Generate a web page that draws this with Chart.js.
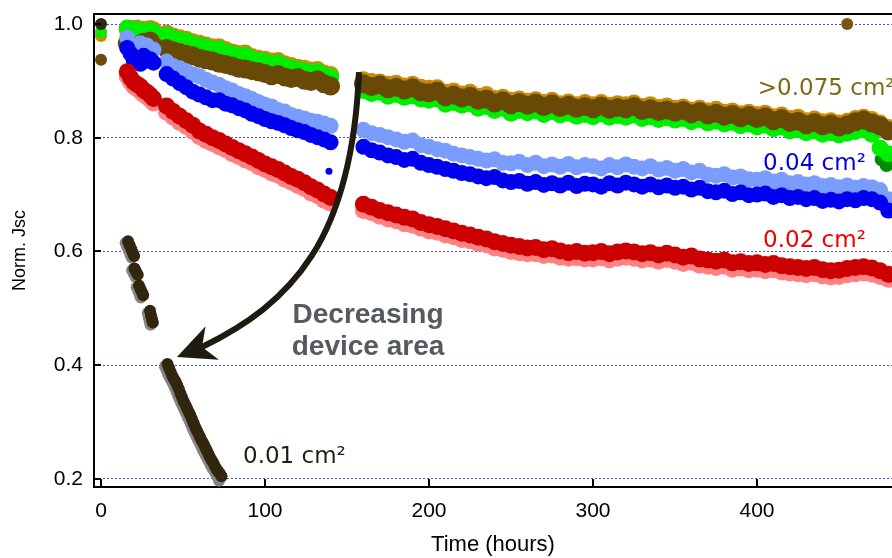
<!DOCTYPE html>
<html>
<head>
<meta charset="utf-8">
<title>Norm. Jsc vs time</title>
<script src="https://cdn.jsdelivr.net/npm/chart.js@4.4.1/dist/chart.umd.min.js"></script>
<style>
  html, body { margin: 0; padding: 0; background: #fff; }
  #wrap { width: 892px; height: 558px; }
</style>
</head>
<body>
<div id="wrap"><canvas id="chart"></canvas></div>
<script>
// measurement times (hours), three runs with gaps between them
const seg1Times = [16, 18, 20, 22, 24, 26, 28, 30, 32]
const seg2Times = [
  40, 44, 48, 52, 56, 60, 64, 68, 72, 76, 80, 84, 88,
  92, 96, 100, 104, 108, 112, 116, 120, 124, 128, 132, 136, 140
]
const seg3Times = [
  160, 165, 170, 175, 180, 185, 190, 195, 200, 205,
  210, 215, 220, 225, 230, 235, 240, 245, 250, 255,
  260, 265, 270, 275, 280, 285, 290, 295, 300, 305,
  310, 315, 320, 325, 330, 335, 340, 345, 350, 355,
  360, 365, 370, 375, 380, 385, 390, 395, 400, 405,
  410, 415, 420, 425, 430, 435, 440, 445, 450, 455,
  460, 465, 470, 475, 480
]
const times = seg1Times.concat(seg2Times, seg3Times)

// >0.075 cm2 devices
const brownValues = [
  0.966, 0.962, 0.958, 0.962, 0.956, 0.968, 0.963, 0.970, 0.962,
  0.957, 0.953, 0.950, 0.947, 0.944, 0.940, 0.937, 0.935, 0.931, 0.929, 0.926, 0.922, 0.921,
  0.918, 0.916, 0.913, 0.909, 0.911, 0.907, 0.904, 0.906, 0.901, 0.899, 0.902, 0.895, 0.891,
  0.895, 0.890, 0.893, 0.886, 0.889, 0.884, 0.888, 0.881, 0.879, 0.882,
  0.872, 0.875, 0.870, 0.873, 0.866, 0.868, 0.861, 0.865, 0.858, 0.862,
  0.857, 0.861, 0.855, 0.860, 0.853, 0.857, 0.852, 0.855, 0.851, 0.856,
  0.850, 0.853, 0.851, 0.855, 0.848, 0.851, 0.846, 0.849, 0.845, 0.848,
  0.842, 0.846, 0.840, 0.843, 0.838, 0.841, 0.835, 0.839, 0.834, 0.837,
  0.830, 0.834, 0.827, 0.829, 0.823, 0.827, 0.821, 0.824, 0.819, 0.823,
  0.828, 0.831, 0.826, 0.821, 0.812
]
const orangeValues = [
  0.990, 0.992, 0.989, 0.993, 0.988, 0.991, 0.987, 0.992, 0.990,
  0.984, 0.979, 0.976, 0.973, 0.969, 0.966, 0.963, 0.960, 0.960, 0.955, 0.951, 0.948, 0.949,
  0.943, 0.940, 0.938, 0.935, 0.936, 0.930, 0.927, 0.924, 0.922, 0.919, 0.920, 0.914, 0.911,
  0.902, 0.899, 0.898, 0.894, 0.896, 0.891, 0.894, 0.889, 0.887, 0.888,
  0.880, 0.882, 0.877, 0.880, 0.873, 0.876, 0.869, 0.871, 0.866, 0.868,
  0.864, 0.867, 0.862, 0.866, 0.860, 0.863, 0.858, 0.862, 0.858, 0.862,
  0.857, 0.860, 0.858, 0.861, 0.855, 0.858, 0.853, 0.856, 0.852, 0.854,
  0.849, 0.852, 0.847, 0.850, 0.845, 0.847, 0.842, 0.845, 0.841, 0.843,
  0.837, 0.840, 0.834, 0.836, 0.830, 0.833, 0.828, 0.830, 0.826, 0.829,
  0.834, 0.836, 0.832, 0.826, 0.818
]
const greenValues = [
  0.993, 0.990, 0.986, 0.990, 0.985, 0.988, 0.984, 0.989, 0.986,
  0.980, 0.976, 0.972, 0.970, 0.965, 0.962, 0.960, 0.955, 0.957, 0.950, 0.948, 0.944, 0.945,
  0.939, 0.936, 0.934, 0.930, 0.932, 0.926, 0.922, 0.920, 0.918, 0.914, 0.916, 0.910, 0.907,
  0.883, 0.878, 0.880, 0.873, 0.876, 0.871, 0.874, 0.868, 0.866, 0.868,
  0.859, 0.862, 0.857, 0.860, 0.852, 0.855, 0.848, 0.852, 0.843, 0.848,
  0.844, 0.847, 0.841, 0.846, 0.840, 0.843, 0.838, 0.841, 0.837, 0.842,
  0.836, 0.839, 0.836, 0.840, 0.834, 0.837, 0.832, 0.835, 0.831, 0.834,
  0.828, 0.832, 0.826, 0.829, 0.824, 0.827, 0.821, 0.824, 0.819, 0.822,
  0.816, 0.819, 0.812, 0.814, 0.809, 0.812, 0.806, 0.809, 0.805, 0.808,
  0.811, 0.814, 0.806, 0.782, 0.772
]
const darkGreenTimes = [476, 479, 481]
const darkGreenValues = [0.762, 0.752, 0.758]

// 0.04 cm2 devices
const lightBlueValues = [
  0.976, 0.962, 0.958, 0.950, 0.966, 0.952, 0.962, 0.946, 0.955,
  0.934, 0.926, 0.922, 0.917, 0.911, 0.908, 0.902, 0.897, 0.893, 0.887, 0.883, 0.877, 0.873,
  0.868, 0.863, 0.858, 0.855, 0.849, 0.846, 0.840, 0.837, 0.834, 0.830, 0.828, 0.825, 0.821,
  0.814, 0.808, 0.805, 0.801, 0.797, 0.793, 0.795, 0.787, 0.784, 0.780,
  0.777, 0.772, 0.769, 0.766, 0.763, 0.760, 0.762, 0.756, 0.755, 0.758,
  0.752, 0.756, 0.750, 0.753, 0.749, 0.754, 0.748, 0.752, 0.750, 0.746,
  0.752, 0.748, 0.753, 0.749, 0.746, 0.750, 0.744, 0.747, 0.742, 0.745,
  0.739, 0.742, 0.735, 0.733, 0.736, 0.730, 0.732, 0.727, 0.726, 0.729,
  0.723, 0.726, 0.720, 0.722, 0.718, 0.720, 0.715, 0.717, 0.713, 0.716,
  0.712, 0.715, 0.713, 0.708, 0.692
]
const blueValues = [
  0.958, 0.948, 0.935, 0.940, 0.930, 0.944, 0.936, 0.938, 0.932,
  0.912, 0.904, 0.896, 0.889, 0.881, 0.876, 0.871, 0.866, 0.866, 0.860, 0.857, 0.852, 0.848,
  0.842, 0.838, 0.833, 0.829, 0.826, 0.822, 0.817, 0.813, 0.810, 0.805, 0.801, 0.797, 0.792,
  0.784, 0.778, 0.774, 0.769, 0.766, 0.761, 0.763, 0.756, 0.752, 0.749,
  0.745, 0.742, 0.738, 0.736, 0.732, 0.729, 0.731, 0.725, 0.722, 0.724,
  0.719, 0.722, 0.717, 0.720, 0.716, 0.721, 0.715, 0.719, 0.718, 0.714,
  0.720, 0.716, 0.721, 0.718, 0.714, 0.718, 0.713, 0.716, 0.712, 0.714,
  0.709, 0.712, 0.706, 0.704, 0.707, 0.701, 0.704, 0.699, 0.700, 0.702,
  0.696, 0.699, 0.694, 0.696, 0.692, 0.694, 0.689, 0.691, 0.688, 0.692,
  0.690, 0.694, 0.692, 0.686, 0.672
]
const blueStrayTimes = [139]
const blueStrayValues = [0.741]

// 0.02 cm2 devices
const redValues = [
  0.916, 0.906, 0.898, 0.894, 0.890, 0.884, 0.880, 0.875, 0.869,
  0.856, 0.846, 0.838, 0.830, 0.822, 0.812, 0.806, 0.800, 0.795, 0.789, 0.783, 0.777, 0.772,
  0.766, 0.760, 0.754, 0.749, 0.744, 0.738, 0.732, 0.727, 0.721, 0.714, 0.708, 0.701, 0.695,
  0.683, 0.678, 0.672, 0.668, 0.664, 0.660, 0.657, 0.651, 0.647, 0.644,
  0.640, 0.636, 0.632, 0.629, 0.625, 0.622, 0.617, 0.614, 0.611, 0.609,
  0.606, 0.607, 0.603, 0.605, 0.601, 0.598, 0.600, 0.597, 0.598, 0.600,
  0.596, 0.599, 0.601, 0.599, 0.596, 0.598, 0.594, 0.597, 0.594, 0.590,
  0.592, 0.587, 0.585, 0.583, 0.585, 0.580, 0.582, 0.579, 0.580, 0.577,
  0.579, 0.575, 0.573, 0.572, 0.570, 0.572, 0.568, 0.566, 0.567, 0.570,
  0.572, 0.573, 0.571, 0.566, 0.560
]
const salmonValues = [
  0.908, 0.898, 0.890, 0.886, 0.882, 0.876, 0.872, 0.867, 0.861,
  0.845, 0.836, 0.827, 0.820, 0.811, 0.802, 0.795, 0.790, 0.784, 0.779, 0.772, 0.767, 0.761,
  0.756, 0.749, 0.744, 0.738, 0.734, 0.727, 0.722, 0.716, 0.711, 0.703, 0.698, 0.690, 0.685,
  0.672, 0.668, 0.662, 0.657, 0.654, 0.649, 0.646, 0.641, 0.636, 0.634,
  0.629, 0.626, 0.621, 0.619, 0.614, 0.612, 0.606, 0.604, 0.600, 0.598,
  0.596, 0.596, 0.593, 0.594, 0.590, 0.588, 0.589, 0.587, 0.587, 0.589,
  0.585, 0.588, 0.590, 0.588, 0.585, 0.587, 0.583, 0.586, 0.583, 0.579,
  0.581, 0.576, 0.574, 0.572, 0.574, 0.569, 0.571, 0.568, 0.569, 0.566,
  0.568, 0.564, 0.562, 0.561, 0.559, 0.561, 0.557, 0.555, 0.556, 0.559,
  0.561, 0.562, 0.560, 0.556, 0.551
]

// 0.01 cm2 devices
const smallTimes = [
  0, 16.5, 17.5, 18.5, 19.5, 20.2, 20.4, 21.3, 22.4, 23.2, 24.2, 25.2, 25.7,
  29.9, 30.5, 31.1, 31.6,
  40.5, 41.5, 42.5, 43.5, 44.5, 45.5, 46.5, 47.5, 48.5, 49.5, 50.5, 51.5,
  52.5, 53.5, 54.5, 55.5, 56.5, 57.5, 58.5, 59.5, 60.5, 61.5, 62.5, 63.5,
  64.5, 65.5, 66.5, 67.5, 68.5, 69.5, 70.5, 71.5, 72.5, 73.5
]
const smallValues = [
  1.0, 0.618, 0.611, 0.604, 0.597, 0.592, 0.570, 0.565, 0.559, 0.540, 0.533, 0.527, 0.523,
  0.496, 0.488, 0.481, 0.475,
  0.402, 0.395, 0.388, 0.381, 0.376, 0.371, 0.365, 0.358, 0.350, 0.343, 0.336, 0.330,
  0.324, 0.318, 0.312, 0.305, 0.298, 0.291, 0.285, 0.279, 0.273, 0.267, 0.262, 0.256,
  0.250, 0.244, 0.238, 0.233, 0.228, 0.222, 0.217, 0.213, 0.209, 0.205
]
const graySmallTimes = [
  15, 16, 17, 18, 18.8, 19, 20, 21, 21.8, 22.8, 23.8, 24.3,
  28.5, 29.1, 29.7, 30.2,
  39, 40, 41, 42, 43, 44, 45, 46, 47, 48, 49, 50, 51, 52, 53, 54, 55,
  56, 57, 58, 59, 60, 61, 62, 63, 64, 65, 66, 67, 68, 69, 70, 71, 72
]
const graySmallValues = [
  0.615, 0.608, 0.601, 0.594, 0.589, 0.567, 0.561, 0.555, 0.537, 0.530, 0.523, 0.519,
  0.492, 0.484, 0.477, 0.471,
  0.398, 0.391, 0.384, 0.378, 0.373, 0.367, 0.361, 0.354, 0.347, 0.340, 0.333, 0.327,
  0.321, 0.315, 0.308, 0.302, 0.295, 0.288, 0.282, 0.276, 0.270, 0.264, 0.258, 0.252,
  0.246, 0.241, 0.235, 0.230, 0.224, 0.219, 0.214, 0.209, 0.204, 0.197
]

// lone points: start values at t=0 and one stray reading
const loneTimes = [0, 0, 0, 455]
const loneValues = [0.937, 0.979, 0.986, 1.0]

const xTicks = [0, 100, 200, 300, 400]
const yTicks = [0.2, 0.4, 0.6, 0.8, 1.0]

const FONT = '"Liberation Sans", Arial, Helvetica, sans-serif'

const toPoints = (xs, ys) => xs.map((x, i) => ({ x, y: ys[i] }))

function makeSet (label, xs, ys, color, radius) {
  return {
    label,
    data: toPoints(xs, ys),
    backgroundColor: color,
    pointBackgroundColor: color,
    pointBorderWidth: 0,
    pointRadius: radius,
    pointHoverRadius: radius
  }
}

// annotation text, placed in data coordinates
const notes = [
  { text: '>0.075 cm²', x: 400.5, y: 0.8752, color: '#7d6a12' },
  { text: '0.04 cm²', x: 403.7, y: 0.7433, color: '#0000dd' },
  { text: '0.02 cm²', x: 403.7, y: 0.6079, color: '#ee0000' },
  { text: '0.01 cm²', x: 86.6, y: 0.2281, color: '#241d10' }
]

const arrow = {
  start: [157.3, 0.9156],
  c1: [153.0, 0.6202],
  c2: [116.5, 0.5095],
  notch: [61.6, 0.4321],
  tip: [46.3, 0.4145]
}

const extras = {
  id: 'extras',
  afterDraw (chart) {
    const { ctx, chartArea: area, scales: { x, y } } = chart
    const px = p => [x.getPixelForValue(p[0]), y.getPixelForValue(p[1])]
    ctx.save()

    // top frame line
    ctx.strokeStyle = '#000'
    ctx.lineWidth = 2
    ctx.beginPath()
    ctx.moveTo(area.left - 1, area.top)
    ctx.lineTo(area.right, area.top)
    ctx.stroke()

    // inward tick marks
    ctx.beginPath()
    yTicks.forEach(v => {
      const py = Math.round(y.getPixelForValue(v))
      ctx.moveTo(area.left, py)
      ctx.lineTo(area.left + 7, py)
    })
    xTicks.forEach(v => {
      const pxv = Math.round(x.getPixelForValue(v))
      ctx.moveTo(pxv, area.bottom)
      ctx.lineTo(pxv, area.bottom - 8)
    })
    ctx.stroke()

    // curved arrow
    const s = px(arrow.start)
    const a = px(arrow.c1)
    const b = px(arrow.c2)
    const n = px(arrow.notch)
    const t = px(arrow.tip)
    ctx.strokeStyle = '#1f1b10'
    ctx.fillStyle = '#1f1b10'
    ctx.lineWidth = 6
    ctx.beginPath()
    ctx.moveTo(s[0], s[1])
    ctx.bezierCurveTo(a[0], a[1], b[0], b[1], n[0], n[1])
    ctx.stroke()

    const dx = n[0] - t[0]
    const dy = n[1] - t[1]
    const len = Math.hypot(dx, dy)
    const ux = dx / len
    const uy = dy / len
    const headLen = 38
    const headHalf = 18
    const bx = t[0] + ux * headLen
    const by = t[1] + uy * headLen
    ctx.beginPath()
    ctx.moveTo(t[0], t[1])
    ctx.lineTo(bx - uy * headHalf, by + ux * headHalf)
    ctx.lineTo(t[0] + ux * 27, t[1] + uy * 27)
    ctx.lineTo(bx + uy * headHalf, by - ux * headHalf)
    ctx.closePath()
    ctx.fill()

    // "Decreasing device area"
    ctx.fillStyle = '#555960'
    ctx.font = 'bold 28px ' + FONT
    ctx.textAlign = 'center'
    ctx.textBaseline = 'alphabetic'
    ctx.fillText('Decreasing', x.getPixelForValue(162.8), y.getPixelForValue(0.4743))
    ctx.fillText('device area', x.getPixelForValue(162.8), y.getPixelForValue(0.418))

    // area labels
    ctx.font = '23px "DejaVu Sans", Verdana, sans-serif'
    ctx.textAlign = 'left'
    notes.forEach(note => {
      ctx.fillStyle = note.color
      ctx.fillText(note.text, x.getPixelForValue(note.x), y.getPixelForValue(note.y))
    })

    ctx.restore()
  }
}

const loneSet = makeSet('start', loneTimes, loneValues, ['#6a4a08', '#cc8a00', '#00ee00', '#7a5410'], 6)

new Chart(document.getElementById('chart'), {
  type: 'scatter',
  data: {
    datasets: [
      makeSet('0.01 cm2', smallTimes, smallValues, '#33260e', 6),
      makeSet('0.01 cm2 b', graySmallTimes, graySmallValues, '#858585', 6),
      makeSet('0.02 cm2', times, redValues, '#cc0000', 8.5),
      makeSet('0.02 cm2 b', times, salmonValues, '#ff8282', 8.5),
      makeSet('0.04 cm2 stray', blueStrayTimes, blueStrayValues, '#0000ee', 3.5),
      makeSet('0.04 cm2', times, blueValues, '#0000ee', 8),
      makeSet('0.04 cm2 b', times, lightBlueValues, '#7b9cff', 8),
      loneSet,
      makeSet('>0.075 cm2', times, brownValues, '#684a06', 9.5),
      makeSet('>0.075 cm2 b', times, greenValues, '#00ee00', 8.5),
      makeSet('>0.075 cm2 c', times, orangeValues, '#cc8a00', 8.5),
      makeSet('>0.075 cm2 d', darkGreenTimes, darkGreenValues, '#008a00', 7)
    ]
  },
  options: {
    responsive: true,
    maintainAspectRatio: false,
    animation: false,
    events: [],
    layout: {
      autoPadding: false,
      padding: { top: 14, right: 0, bottom: 0, left: 0 }
    },
    plugins: {
      legend: { display: false },
      tooltip: { enabled: false }
    },
    scales: {
      x: {
        type: 'linear',
        min: -4.27,
        max: 482.3,
        afterBuildTicks: scale => { scale.ticks = xTicks.map(v => ({ value: v })) },
        afterFit: scale => {
          scale.height = 71
          scale.paddingLeft = 0
          scale.paddingRight = 0
        },
        grid: { display: false, drawTicks: false },
        border: { display: true, color: '#000', width: 2 },
        ticks: {
          color: '#000',
          padding: 12,
          maxRotation: 0,
          font: { family: FONT, size: 21 }
        },
        title: {
          display: true,
          text: 'Time (hours)',
          color: '#000',
          padding: { top: 0, bottom: 0 },
          font: { family: FONT, size: 22 }
        }
      },
      y: {
        type: 'linear',
        min: 0.1859,
        max: 1.0176,
        afterBuildTicks: scale => { scale.ticks = yTicks.map(v => ({ value: v })) },
        afterFit: scale => {
          scale.width = 94
          scale.paddingTop = 0
          scale.paddingBottom = 0
        },
        grid: { color: '#4646ff', lineWidth: 1, drawTicks: false },
        border: { display: true, color: '#000', width: 2, dash: [2, 2] },
        ticks: {
          color: '#000',
          padding: 11,
          callback: v => v.toFixed(1),
          font: { family: FONT, size: 21 }
        },
        title: {
          display: true,
          text: 'Norm. Jsc',
          color: '#000',
          padding: { top: 9, bottom: 0 },
          font: { family: FONT, size: 18 }
        }
      }
    }
  },
  plugins: [extras]
})
</script>
</body>
</html>
